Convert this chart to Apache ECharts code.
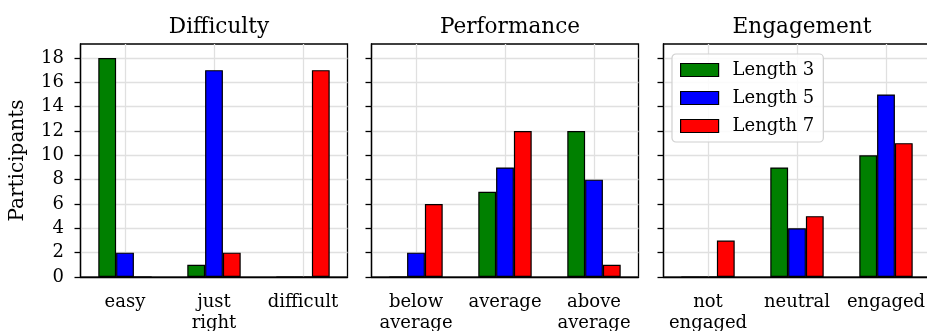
<!DOCTYPE html>
<html>
<head>
<meta charset="utf-8">
<script src="https://cdn.jsdelivr.net/npm/echarts@6/dist/echarts.min.js"></script>
<style>
  html, body { margin: 0; padding: 0; background: #fff; }
  #chart { width: 927px; height: 331px; }
</style>
</head>
<body>
<div id="chart"></div>
<script>
// Survey responses per puzzle length, grouped by question
const panelTitles = ['Difficulty', 'Performance', 'Engagement'];
const difficultyCats = ['easy', 'just\nright', 'difficult'];
const performanceCats = ['below\naverage', 'average', 'above\naverage'];
const engagementCats = ['not\nengaged', 'neutral', 'engaged'];
const seriesNames = ['Length 3', 'Length 5', 'Length 7'];
const seriesColors = ['#008000', '#0000ff', '#ff0000'];

// counts: one array per length, one value per category
const difficultyL3 = [18, 1, 0];
const difficultyL5 = [2, 17, 0];
const difficultyL7 = [0, 2, 17];
const performanceL3 = [0, 7, 12];
const performanceL5 = [2, 9, 8];
const performanceL7 = [6, 12, 1];
const engagementL3 = [0, 9, 10];
const engagementL5 = [0, 4, 15];
const engagementL7 = [3, 5, 11];

const yTicks = [0, 2, 4, 6, 8, 10, 12, 14, 16, 18];
const yMax = 19.15;

const panels = [
  { cats: difficultyCats, data: [difficultyL3, difficultyL5, difficultyL7] },
  { cats: performanceCats, data: [performanceL3, performanceL5, performanceL7] },
  { cats: engagementCats, data: [engagementL3, engagementL5, engagementL7] }
];

const FONT = 'DejaVu Serif';
const BASE = 18;
const gridLefts = [80.5, 371.5, 663.5];
const gridWidth = 267;

const grid = gridLefts.map(l => ({
  left: l, width: gridWidth, top: 44, height: 233,
  outerBoundsMode: 'none', containLabel: false,
  show: true, borderColor: '#000', borderWidth: 1.3, backgroundColor: 'transparent'
}));

const xAxis = panels.map((p, i) => ({
  type: 'category', gridIndex: i, data: p.cats,
  axisLine: { lineStyle: { color: '#000', width: 1.3 } },
  axisTick: { alignWithLabel: true, length: 6, lineStyle: { color: '#000', width: 1.3 } },
  axisLabel: {
    interval: 0, hideOverlap: false,
    color: '#000', fontFamily: FONT, fontSize: BASE, margin: 15, lineHeight: 21
  },
  splitLine: { show: true, alignWithLabel: true, lineStyle: { color: '#e0e0e0', width: 1.3 } }
}));

const yAxis = panels.map((p, i) => ({
  type: 'value', gridIndex: i, min: 0, max: yMax, interval: 2,
  name: i === 0 ? 'Participants' : '',
  nameLocation: 'middle', nameGap: 53,
  nameTextStyle: { color: '#000', fontFamily: FONT, fontSize: 20 },
  axisLine: { show: true, lineStyle: { color: '#000', width: 1.3 } },
  axisTick: { show: true, length: 6, customValues: yTicks, lineStyle: { color: '#000', width: 1.3 } },
  axisLabel: {
    show: i === 0, color: '#000', fontFamily: FONT, fontSize: BASE, margin: 16.5,
    customValues: yTicks
  },
  splitLine: { show: true, lineStyle: { color: '#e0e0e0', width: 1.3 } }
}));

const title = panelTitles.map((t, i) => ({
  text: t, left: gridLefts[i] + gridWidth / 2, top: 11, textAlign: 'center',
  textStyle: { color: '#000', fontFamily: FONT, fontSize: 21.6, fontWeight: 'normal' }
}));

const series = [];
panels.forEach((p, i) => {
  p.data.forEach((vals, k) => {
    series.push({
      type: 'bar', name: seriesNames[k], xAxisIndex: i, yAxisIndex: i,
      data: vals, barWidth: '20%', barGap: '0%',
      itemStyle: { color: seriesColors[k], borderColor: '#000', borderWidth: 1.2 },
      emphasis: { disabled: true }
    });
  });
});

const chart = echarts.init(document.getElementById('chart'), null, { renderer: 'canvas' });
chart.setOption({
  animation: false,
  title,
  grid, xAxis, yAxis, series,
  legend: {
    data: seriesNames, orient: 'vertical', left: 672, top: 54,
    itemWidth: 38, itemHeight: 13, itemGap: 10,
    padding: [7, 9, 7, 8],
    borderColor: '#d0d0d0', borderWidth: 1.2, borderRadius: 4,
    backgroundColor: 'rgba(255,255,255,0.85)',
    icon: 'rect',
    itemStyle: { borderColor: '#000', borderWidth: 1.2 },
    textStyle: { color: '#000', fontFamily: FONT, fontSize: BASE, padding: [0, 0, 0, 9] },
    selectedMode: false
  }
});
</script>
</body>
</html>
